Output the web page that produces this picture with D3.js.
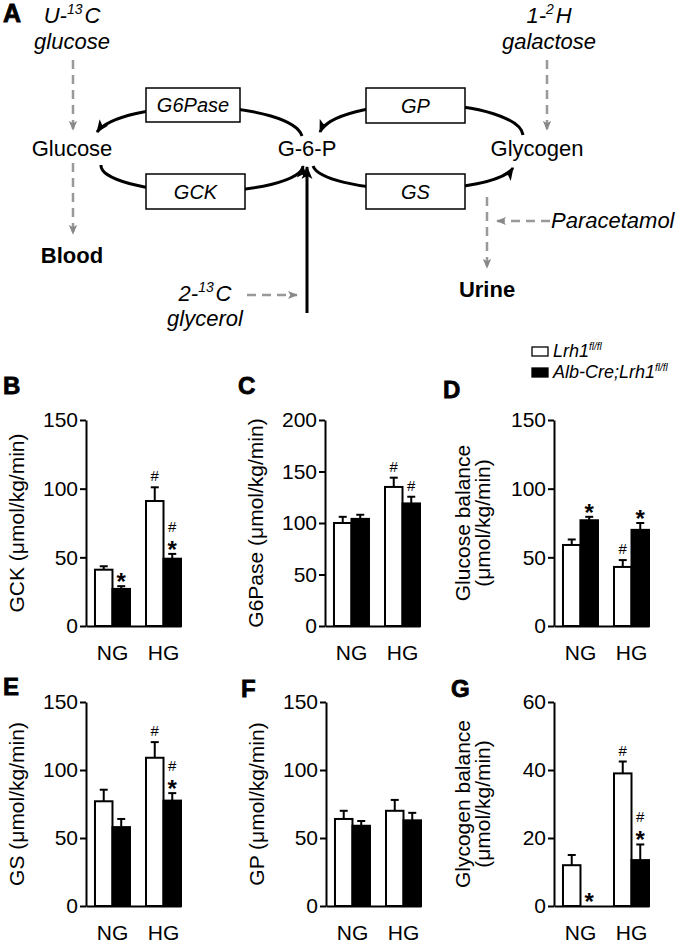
<!DOCTYPE html>
<html>
<head>
<meta charset="utf-8">
<style>
  body { margin: 0; background: #fff; }
  svg text { font-family: "Liberation Sans", Arial, Helvetica, sans-serif; }
</style>
</head>
<body>
<script src="https://cdn.jsdelivr.net/npm/d3@7"></script>
<script>
  // groups and genotypes
  const groups = ['NG', 'HG']
  const genotypes = ['Lrh1', 'Alb-Cre;Lrh1']

  // B - GCK
  const gckWt = [41, 91], gckWtSem = [2.5, 10]
  const gckKo = [27, 49], gckKoSem = [2, 3.5]
  const gckWtMark = ['', '#'], gckKoMark = ['*', '#*']

  // C - G6Pase
  const g6pWt = [100, 135], g6pWtSem = [6, 9]
  const g6pKo = [104, 119], g6pKoSem = [4, 6.5]
  const g6pWtMark = ['', '#'], g6pKoMark = ['', '#']

  // D - glucose balance
  const glcWt = [59, 43], glcWtSem = [4, 5]
  const glcKo = [77, 70], glcKoSem = [2.5, 5]
  const glcWtMark = ['', '#'], glcKoMark = ['*', '*']

  // E - GS
  const gsWt = [77, 109], gsWtSem = [8.5, 11.5]
  const gsKo = [58, 77.5], gsKoSem = [6, 5.5]
  const gsWtMark = ['', '#'], gsKoMark = ['', '#*']

  // F - GP
  const gpWt = [64, 70], gpWtSem = [6, 8]
  const gpKo = [59, 63], gpKoSem = [3.5, 5.5]
  const gpWtMark = ['', ''], gpKoMark = ['', '']

  // G - glycogen balance
  const glyWt = [12, 39], glyWtSem = [3, 3.5]
  const glyKo = [0, 13.5], glyKoSem = [0, 4.6]
  const glyWtMark = ['', '#'], glyKoMark = ['*', '#*']

  const width = 677
  const height = 945
  const svg = d3.select('body').append('svg')
    .attr('width', width)
    .attr('height', height)

  // ---------- panel A: schematic ----------
  const defs = svg.append('defs')
  function marker(id, color, size) {
    defs.append('marker')
      .attr('id', id)
      .attr('viewBox', '0 0 12 12')
      .attr('markerUnits', 'userSpaceOnUse')
      .attr('markerWidth', size).attr('markerHeight', size)
      .attr('refX', 11).attr('refY', 6)
      .attr('orient', 'auto')
      .append('path')
      .attr('d', 'M0,1 L12,6 L0,11 L3,6 Z')
      .attr('fill', color)
  }
  marker('ah', '#000', 13)
  marker('ahg', '#888', 10)

  const A = svg.append('g')

  // black cycle arcs
  const arcs = [
    'M302,136 A104,32 0 0 0 97,132',
    'M101,165 A101,26 0 0 0 303,166',
    'M523,135 A102,32 0 0 0 320,132',
    'M313,166 A101,26 0 0 0 513,168'
  ]
  A.selectAll('path.arc')
    .data(arcs)
    .enter().append('path')
    .attr('d', d => d)
    .attr('fill', 'none')
    .attr('stroke', '#000')
    .attr('stroke-width', 3)
    .attr('marker-end', 'url(#ah)')

  // glycerol arrow
  A.append('line')
    .attr('x1', 307).attr('y1', 313).attr('x2', 307).attr('y2', 167)
    .attr('stroke', '#000').attr('stroke-width', 3)
    .attr('marker-end', 'url(#ah)')

  // enzyme boxes
  const boxes = [
    { t: 'G6Pase', x: 146, y: 88, w: 94, h: 34 },
    { t: 'GCK', x: 146, y: 174, w: 99, h: 35 },
    { t: 'GP', x: 366, y: 88, w: 99, h: 35 },
    { t: 'GS', x: 366, y: 174, w: 99, h: 35 }
  ]
  boxes.forEach(b => {
    A.append('rect')
      .attr('x', b.x).attr('y', b.y).attr('width', b.w).attr('height', b.h)
      .attr('fill', '#fff').attr('stroke', '#000').attr('stroke-width', 1.5)
    A.append('text')
      .attr('x', b.x + b.w / 2).attr('y', b.y + b.h / 2 + 7)
      .attr('text-anchor', 'middle')
      .attr('font-size', 20).attr('font-style', 'italic')
      .text(b.t)
  })

  // gray dashed arrows
  const dashes = [
    [73, 60, 73, 130],
    [73, 163, 73, 234],
    [547, 60, 547, 130],
    [487, 197, 487, 268],
    [550, 221, 497, 221],
    [247, 295, 297, 295]
  ]
  A.selectAll('line.dash')
    .data(dashes)
    .enter().append('line')
    .attr('x1', d => d[0]).attr('y1', d => d[1])
    .attr('x2', d => d[2]).attr('y2', d => d[3])
    .attr('stroke', '#999').attr('stroke-width', 2.5)
    .attr('stroke-dasharray', '9,6')
    .attr('marker-end', 'url(#ahg)')

  // parts: plain strings, or ['^', text] for a superscript
  function label(x, y, parts, opts) {
    const t = A.append('text')
      .attr('x', x).attr('y', y)
      .attr('text-anchor', opts.anchor || 'middle')
      .attr('font-size', 22)
      .attr('font-style', opts.italic ? 'italic' : null)
      .attr('font-weight', opts.bold ? 'bold' : null)
    parts.forEach(part => {
      if (Array.isArray(part)) {
        t.append('tspan').attr('dy', -9).attr('font-size', 14).text(part[1])
        t.append('tspan').attr('dy', 9).text('\u200a')
      } else {
        t.append('tspan').text(part)
      }
    })
  }
  A.append('text').attr('x', 3).attr('y', 22)
    .attr('font-size', 25).attr('font-weight', 'bold')
    .attr('stroke', '#000').attr('stroke-width', 0.8).text('A')
  label(72, 23, ['U-', ['^', '13'], 'C'], { italic: true })
  label(72, 49, ['glucose'], { italic: true })
  label(549, 23, ['1-', ['^', '2'], 'H'], { italic: true })
  label(549, 49, ['galactose'], { italic: true })
  label(72, 156, ['Glucose'], {})
  label(307, 156, ['G-6-P'], {})
  label(537, 156, ['Glycogen'], {})
  label(72, 263, ['Blood'], { bold: true })
  label(487, 297, ['Urine'], { bold: true })
  label(551, 228, ['Paracetamol'], { italic: true, anchor: 'start' })
  label(205, 301, ['2-', ['^', '13'], 'C'], { italic: true })
  label(205, 326, ['glycerol'], { italic: true })

  // ---------- legend ----------
  const leg = svg.append('g')
  const legY = [347, 368]
  genotypes.forEach((gname, i) => {
    leg.append('rect')
      .attr('x', 532).attr('y', legY[i]).attr('width', 16).attr('height', 9)
      .attr('fill', i === 0 ? '#fff' : '#000')
      .attr('stroke', '#000').attr('stroke-width', 1.3)
    const t = leg.append('text')
      .attr('x', 553).attr('y', legY[i] + 10)
      .attr('font-size', 18).attr('font-style', 'italic')
    t.append('tspan').text(gname)
    t.append('tspan').attr('dy', -7).attr('font-size', 10).text('fl/fl')
  })

  // ---------- bar panels ----------
  const panels = [
    { letter: 'B', lx: 3, ly: 394, ax: 86, top: 420, zero: 626, max: 150, ticks: [0, 50, 100, 150],
      label: ['GCK (μmol/kg/min)'], wt: gckWt, wtSem: gckWtSem, ko: gckKo, koSem: gckKoSem, wtMark: gckWtMark, koMark: gckKoMark },
    { letter: 'C', lx: 238, ly: 394, ax: 325, top: 420, zero: 626, max: 200, ticks: [0, 50, 100, 150, 200],
      label: ['G6Pase (μmol/kg/min)'], wt: g6pWt, wtSem: g6pWtSem, ko: g6pKo, koSem: g6pKoSem, wtMark: g6pWtMark, koMark: g6pKoMark },
    { letter: 'D', lx: 443, ly: 398, ax: 554, top: 420, zero: 626, max: 150, ticks: [0, 50, 100, 150],
      label: ['Glucose balance', '(μmol/kg/min)'], wt: glcWt, wtSem: glcWtSem, ko: glcKo, koSem: glcKoSem, wtMark: glcWtMark, koMark: glcKoMark },
    { letter: 'E', lx: 3, ly: 695, ax: 86, top: 702, zero: 906, max: 150, ticks: [0, 50, 100, 150],
      label: ['GS (μmol/kg/min)'], wt: gsWt, wtSem: gsWtSem, ko: gsKo, koSem: gsKoSem, wtMark: gsWtMark, koMark: gsKoMark },
    { letter: 'F', lx: 241, ly: 697, ax: 326, top: 702, zero: 906, max: 150, ticks: [0, 50, 100, 150],
      label: ['GP (μmol/kg/min)'], wt: gpWt, wtSem: gpWtSem, ko: gpKo, koSem: gpKoSem, wtMark: gpWtMark, koMark: gpKoMark },
    { letter: 'G', lx: 451, ly: 697, ax: 554, top: 702, zero: 906, max: 60, ticks: [0, 20, 40, 60],
      label: ['Glycogen balance', '(μmol/kg/min)'], wt: glyWt, wtSem: glyWtSem, ko: glyKo, koSem: glyKoSem, wtMark: glyWtMark, koMark: glyKoMark }
  ]

  function drawMarks(g, cx, topY, mark) {
    let c = topY - 9
    if (mark.includes('*')) {
      g.append('text')
        .attr('x', cx).attr('y', c + 13)
        .attr('text-anchor', 'middle')
        .attr('font-size', 24).attr('font-weight', 'bold')
        .text('*')
      c -= 18
    } else {
      c -= 2
    }
    if (mark.includes('#')) {
      g.append('text')
        .attr('x', cx).attr('y', c + 5)
        .attr('text-anchor', 'middle')
        .attr('font-size', 15)
        .text('#')
    }
  }

  panels.forEach(p => {
    const g = svg.append('g')

    g.append('text')
      .attr('x', p.lx).attr('y', p.ly)
      .attr('font-size', 24).attr('font-weight', 'bold')
      .attr('stroke', '#000').attr('stroke-width', 0.8)
      .text(p.letter)

    const y = d3.scaleLinear().domain([0, p.max]).range([p.zero, p.top])

    const x = d3.scaleBand()
      .domain(groups)
      .range([p.ax, p.ax + 95])
      .paddingInner(0.314)
      .paddingOuter(0.088)
      .align(1)

    const xs = d3.scaleBand()
      .domain(genotypes)
      .range([0, x.bandwidth()])

    // bars
    const rows = []
    groups.forEach((grp, i) => {
      rows.push({ grp, gen: genotypes[0], v: p.wt[i], e: p.wtSem[i], m: p.wtMark[i] })
      rows.push({ grp, gen: genotypes[1], v: p.ko[i], e: p.koSem[i], m: p.koMark[i] })
    })

    rows.forEach(d => {
      const x0 = x(d.grp) + xs(d.gen)
      const cx = x0 + xs.bandwidth() / 2
      const fill = d.gen === genotypes[0] ? '#fff' : '#000'
      if (d.e > 0) {
        g.append('line')
          .attr('x1', cx).attr('x2', cx)
          .attr('y1', y(d.v)).attr('y2', y(d.v + d.e))
          .attr('stroke', '#000').attr('stroke-width', 2)
        g.append('line')
          .attr('x1', cx - 4).attr('x2', cx + 4)
          .attr('y1', y(d.v + d.e)).attr('y2', y(d.v + d.e))
          .attr('stroke', '#000').attr('stroke-width', 2)
      }
      if (d.v > 0) {
        g.append('rect')
          .attr('x', x0).attr('y', y(d.v))
          .attr('width', xs.bandwidth())
          .attr('height', y(0) - y(d.v))
          .attr('fill', fill)
          .attr('stroke', '#000').attr('stroke-width', 2)
      }
      drawMarks(g, cx, y(d.v + d.e), d.m)
    })

    // axes
    const yAxis = d3.axisLeft(y).tickValues(p.ticks).tickSize(6).tickSizeOuter(0).tickPadding(2)
    g.append('g')
      .attr('transform', `translate(${p.ax},0)`)
      .call(yAxis)
      .call(s => s.selectAll('text').attr('font-size', 21).attr('fill', '#000').style('font-family', 'Liberation Sans, Arial, sans-serif'))
      .call(s => s.selectAll('line, path').attr('stroke', '#000').attr('stroke-width', 2))

    const xAxis = d3.axisBottom(x).tickSize(0).tickSizeOuter(0).tickPadding(19)
    g.append('g')
      .attr('transform', `translate(0,${p.zero})`)
      .call(xAxis)
      .call(s => s.selectAll('text').attr('font-size', 21).attr('fill', '#000').style('font-family', 'Liberation Sans, Arial, sans-serif'))
      .call(s => s.selectAll('path').attr('stroke', '#000').attr('stroke-width', 2))

    // y label
    const mid = (p.top + p.zero) / 2
    const lab = g.append('text')
      .attr('transform', `translate(${p.ax - (p.label.length > 1 ? 84 : 62)},${mid}) rotate(-90)`)
      .attr('text-anchor', 'middle')
      .attr('font-size', 21)
    p.label.forEach((l, i) => {
      lab.append('tspan').attr('x', 0).attr('dy', i === 0 ? 0 : 20).text(l)
    })
  })
</script>
</body>
</html>
